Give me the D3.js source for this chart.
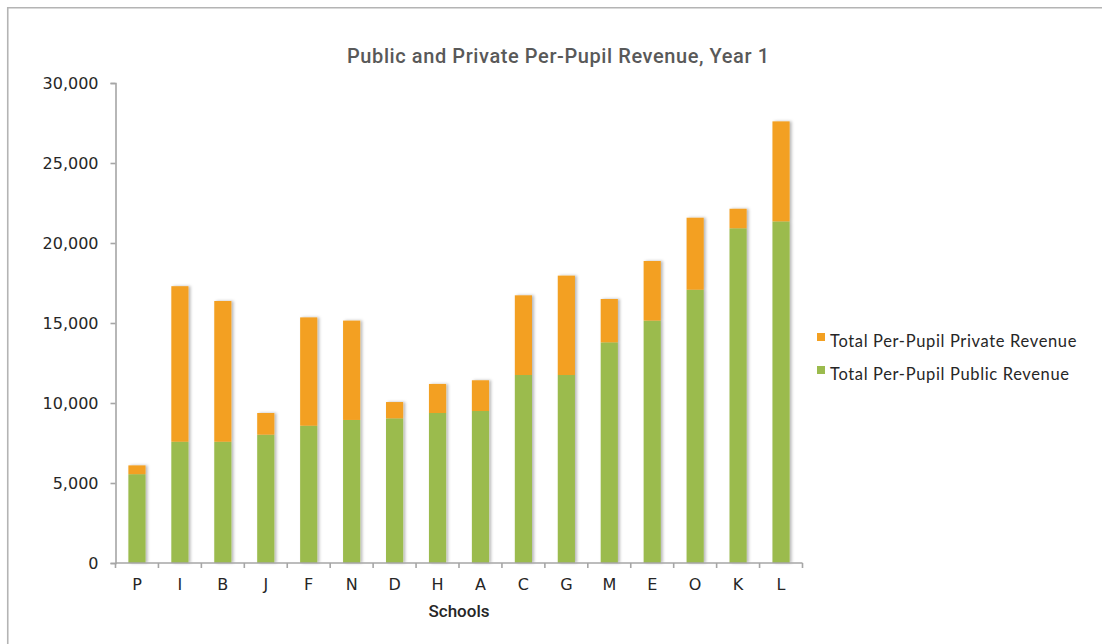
<!DOCTYPE html>
<html>
<head>
<meta charset="utf-8">
<script src="https://cdn.jsdelivr.net/npm/d3@7"></script>
<style>
  html, body { margin: 0; padding: 0; background: #fff; }
  svg { display: block; }
</style>
</head>
<body>
<svg id="chart" width="1102" height="644"></svg>
<script>
// Schools, ordered as on the axis
const schools = ["P", "I", "B", "J", "F", "N", "D", "H", "A", "C", "G", "M", "E", "O", "K", "L"];
// Per-pupil revenue by source (dollars)
const publicRevenue  = [5550, 7580, 7580, 8020, 8580, 8940, 9040, 9375, 9500, 11750, 11750, 13790, 15150, 17080, 20920, 21350];
const privateRevenue = [550, 9720, 8795, 1355, 6770, 6210, 1020, 1815, 1920, 4980, 6210, 2710, 3725, 4500, 1220, 6250];
// Series names and y-axis ticks
const seriesNames = ["Total Per-Pupil Public Revenue", "Total Per-Pupil Private Revenue"];
const yTicks = [0, 5000, 10000, 15000, 20000, 25000, 30000];
const colors = { "Total Per-Pupil Public Revenue": "#9bbb4d", "Total Per-Pupil Private Revenue": "#f3a021" };

const rows = schools.map((s, i) => ({
  school: s,
  "Total Per-Pupil Public Revenue": publicRevenue[i],
  "Total Per-Pupil Private Revenue": privateRevenue[i]
}));

const svg = d3.select("#chart");
const plotLeft = 115.5, plotRight = 802.5, plotTop = 83, plotBottom = 563;

// Outer frame (top and left edges)
svg.append("path")
  .attr("d", "M7.75,644 V7.75 H1102")
  .attr("fill", "none")
  .attr("stroke", "#b4b4b4")
  .attr("stroke-width", 1.6);

const defs = svg.append("defs");
const f = defs.append("filter").attr("id", "barShadow")
  .attr("x", "-30%").attr("y", "-5%").attr("width", "160%").attr("height", "110%");
f.append("feDropShadow")
  .attr("dx", 2).attr("dy", 0).attr("stdDeviation", 1.6)
  .attr("flood-color", "#000").attr("flood-opacity", 0.28);

const x = d3.scaleBand().domain(schools).range([plotLeft, plotRight]).paddingInner(0.6).paddingOuter(0.3);
const y = d3.scaleLinear().domain([0, 30000]).range([plotBottom, plotTop]);

// Stacked bars
const stacked = d3.stack().keys(seriesNames)(rows);
svg.append("g").attr("filter", "url(#barShadow)")
  .selectAll("g").data(stacked).join("g")
  .attr("fill", d => colors[d.key])
  .selectAll("rect").data(d => d).join("rect")
  .attr("x", d => x(d.data.school))
  .attr("width", x.bandwidth())
  .attr("y", d => y(d[1]))
  .attr("height", d => y(d[0]) - y(d[1]));

// Y axis
const yAxis = svg.append("g")
  .attr("transform", `translate(${plotLeft},0)`)
  .call(d3.axisLeft(y).tickValues(yTicks).tickFormat(d3.format(",")).tickSize(5).tickPadding(12));
yAxis.select(".domain").attr("stroke", "#a6a6a6").attr("stroke-width", 1.6);
yAxis.selectAll(".tick line").attr("stroke", "#a6a6a6").attr("stroke-width", 1.6);
yAxis.selectAll(".tick text")
  .attr("font-family", "'DejaVu Sans', sans-serif")
  .attr("font-size", 16)
  .attr("fill", "#262626");

// X axis with tick marks at category boundaries
const xAxis = svg.append("g").attr("transform", `translate(0,${plotBottom})`);
xAxis.append("line")
  .attr("x1", plotLeft).attr("x2", plotRight)
  .attr("stroke", "#a6a6a6").attr("stroke-width", 1.6);
const boundaries = d3.range(schools.length + 1).map(i => plotLeft + i * x.step());
xAxis.selectAll("line.bound").data(boundaries).join("line")
  .attr("class", "bound")
  .attr("x1", d => d).attr("x2", d => d)
  .attr("y1", 0).attr("y2", 5)
  .attr("stroke", "#a6a6a6").attr("stroke-width", 1.6);
xAxis.selectAll("text").data(schools).join("text")
  .attr("x", d => x(d) + x.bandwidth() / 2)
  .attr("y", 27)
  .attr("text-anchor", "middle")
  .attr("font-family", "'DejaVu Sans', sans-serif")
  .attr("font-size", 16)
  .attr("fill", "#262626")
  .text(d => d);

// Axis title
svg.append("text")
  .attr("x", (plotLeft + plotRight) / 2)
  .attr("y", 617)
  .attr("text-anchor", "middle")
  .attr("font-family", "Roboto, sans-serif")
  .attr("font-weight", 500)
  .attr("font-size", 17)
  .attr("fill", "#262626")
  .text("Schools");

// Chart title
svg.append("text")
  .attr("x", 558)
  .attr("y", 63)
  .attr("text-anchor", "middle")
  .attr("font-family", "Roboto, sans-serif")
  .attr("font-weight", 500)
  .attr("font-size", 20)
  .attr("textLength", 422)
  .attr("lengthAdjust", "spacing")
  .attr("fill", "#595959")
  .text("Public and Private Per-Pupil Revenue, Year 1");

// Legend (private listed first, as it sits on top of the stack)
const legendItems = [seriesNames[1], seriesNames[0]];
const legend = svg.append("g");
legendItems.forEach((name, i) => {
  const g = legend.append("g").attr("transform", `translate(817,${333 + i * 33})`);
  g.append("rect").attr("width", 8).attr("height", 8).attr("fill", colors[name]);
  g.append("text")
    .attr("x", 13).attr("y", 13.5)
    .attr("font-family", "Lato, sans-serif")
    .attr("font-size", 16.5)
    .attr("letter-spacing", 0.65)
    .attr("fill", "#262626")
    .text(name);
});
</script>
</body>
</html>
